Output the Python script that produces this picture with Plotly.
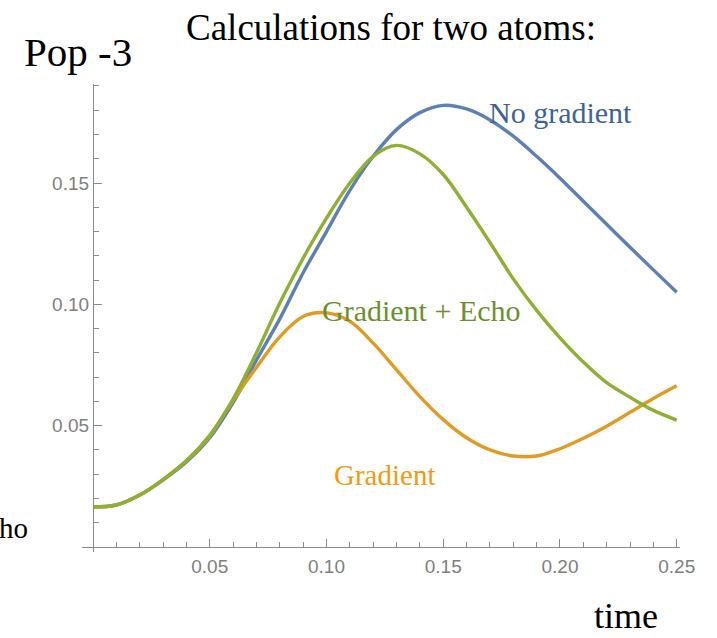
import plotly.graph_objects as go

# time grid (shared)
t = [0.0, 0.01, 0.02, 0.03, 0.04, 0.05, 0.06, 0.07, 0.08, 0.09, 0.10, 0.11, 0.12,
     0.13, 0.14, 0.15, 0.16, 0.17, 0.18, 0.19, 0.20, 0.21, 0.22, 0.23, 0.24, 0.25]

no_gradient = [0.0165, 0.0173, 0.0214, 0.0276, 0.0350, 0.0450, 0.0595, 0.0770, 0.0940,
               0.1130, 0.1300, 0.1470, 0.1610, 0.1720, 0.1790, 0.1820, 0.1805, 0.1760,
               0.1693, 0.1610, 0.1520, 0.1425, 0.1330, 0.1235, 0.1142, 0.1050]

gradient_echo = [0.0165, 0.0173, 0.0214, 0.0278, 0.0355, 0.0460, 0.0610, 0.0800, 0.1005,
                 0.1190, 0.1355, 0.1500, 0.1610, 0.1655, 0.1620, 0.1535, 0.1400, 0.1255,
                 0.1105, 0.0975, 0.0862, 0.0762, 0.0677, 0.0617, 0.0563, 0.0523]

gradient = [0.0165, 0.0173, 0.0214, 0.0278, 0.0355, 0.0458, 0.0605, 0.0740, 0.0866,
            0.0950, 0.0965, 0.0930, 0.0840, 0.0730, 0.0620, 0.0525, 0.0450, 0.0400,
            0.0375, 0.0375, 0.0405, 0.0448, 0.0498, 0.0555, 0.0612, 0.0664]

x_ticks = [0.05, 0.10, 0.15, 0.20, 0.25]
x_tick_labels = ["0.05", "0.10", "0.15", "0.20", "0.25"]
y_ticks = [0.05, 0.10, 0.15]
y_tick_labels = ["0.05", "0.10", "0.15"]

W, H = 717, 638
BLUE = "#5E81B5"
ORANGE = "#E19C24"
GREEN = "#8FB032"
AXIS = "#8a8a8a"

fig = go.Figure()
for y, c in [(no_gradient, BLUE), (gradient, ORANGE), (gradient_echo, GREEN)]:
    fig.add_trace(go.Scatter(x=t, y=y, mode="lines",
                             line=dict(color=c, width=3.4, shape="spline", smoothing=1.0),
                             hoverinfo="skip", showlegend=False))

# plot area geometry (pixels)
x_left, x_right = 82, 680
y_top, y_bot = 84, 552
x0_px, y0_px = 93, 547

TICKFONT = dict(family="Liberation Sans, Arial, sans-serif", size=19, color="#7f7f7f")

fig.update_layout(
    width=W, height=H, autosize=False,
    margin=dict(l=0, r=0, t=0, b=0),
    paper_bgcolor="white", plot_bgcolor="white",
    xaxis=dict(
        domain=[x_left / W, x_right / W],
        range=[-0.00471, 0.2514],
        anchor="free", position=(H - y0_px) / H,
        showgrid=False, zeroline=False,
        showline=True, linecolor=AXIS, linewidth=1.3,
        tickvals=x_ticks, ticktext=x_tick_labels,
        ticks="inside", ticklen=8, tickcolor=AXIS, tickwidth=1.2,
        minor=dict(dtick=0.01, tick0=0, ticks="inside", ticklen=5, tickcolor=AXIS, tickwidth=1),
        tickfont=TICKFONT, ticklabelstandoff=2,
        automargin=False, fixedrange=True,
    ),
    yaxis=dict(
        domain=[(H - y_bot) / H, (H - y_top) / H],
        range=[-0.00206, 0.1908],
        anchor="free", position=x0_px / W,
        showgrid=False, zeroline=False,
        showline=True, linecolor=AXIS, linewidth=1.3,
        tickvals=y_ticks, ticktext=y_tick_labels,
        ticks="inside", ticklen=8, tickcolor=AXIS, tickwidth=1.2,
        minor=dict(dtick=0.01, tick0=0, ticks="inside", ticklen=5, tickcolor=AXIS, tickwidth=1),
        tickfont=TICKFONT, ticklabelstandoff=0,
        automargin=False, fixedrange=True,
    ),
)

SERIF = "Liberation Serif, Times New Roman, serif"

def txt(s, xpx, ypx, size, color, xanchor="left"):
    fig.add_annotation(text=s, x=xpx / W, y=1 - ypx / H, xref="paper", yref="paper",
                       xanchor=xanchor, yanchor="middle", showarrow=False,
                       font=dict(family=SERIF, size=size, color=color))

txt("Calculations for two atoms:", 184, 27, 37, "black")
txt("Pop -3", 22, 52, 41, "black")
txt("No gradient", 487, 112, 30, "#3E6399")
txt("Gradient + Echo", 320, 310, 30, "#6E8F2E")
txt("Gradient", 332, 475, 29, "#F29B12")
txt("time", 592, 616, 36, "black")
txt("ho", -3, 528, 29, "black")

fig.write_html("out.html", config={"displayModeBar": False},
               post_script="document.body.style.margin='0';document.body.style.overflow='hidden';")
